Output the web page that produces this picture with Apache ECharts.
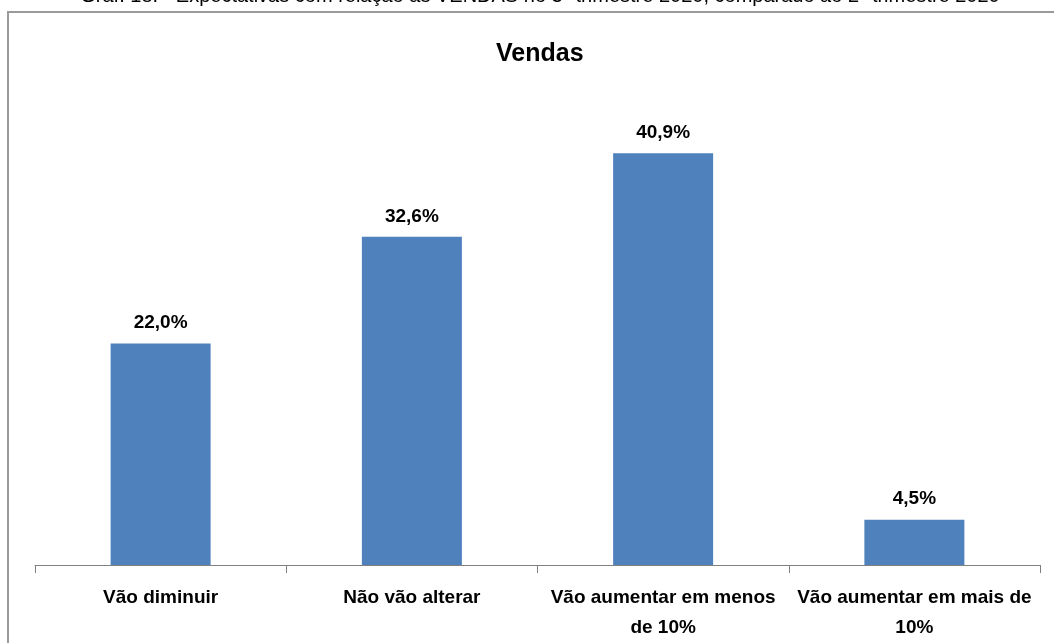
<!DOCTYPE html>
<html lang="pt">
<head>
<meta charset="UTF-8">
<title>Vendas</title>
<style>
  html, body { margin: 0; padding: 0; background: #fff; }
  #chart { width: 1054px; height: 643px; }
</style>
</head>
<body>
<div id="chart"></div>
<script src="https://cdn.jsdelivr.net/npm/echarts@6/dist/echarts.min.js"></script>
<script>
var categories = ['Vão diminuir', 'Não vão alterar', 'Vão aumentar em menos\nde 10%', 'Vão aumentar em mais de\n10%'];
var values = [22.0, 32.6, 40.9, 4.5];
var chartTitle = 'Vendas';
var caption = 'Gráf. 18. - Expectativas com relação às VENDAS no 3º trimestre 2020, comparado ao 2º trimestre 2020';

var myChart = echarts.init(document.getElementById('chart'));
var option = {
  animation: false,
  title: {
    text: chartTitle,
    left: 491, top: 37,
    textStyle: { fontFamily: 'Liberation Sans, Arial', fontSize: 25, fontWeight: 'bold', color: '#000' }
  },
  graphic: [
    { type: 'rect', shape: { x: 8, y: 12, width: 1100, height: 700 },
      style: { fill: 'none', stroke: '#9a9a9a', lineWidth: 2 }, silent: true },
    { type: 'text', x: 540, y: -14,
      style: { text: caption, font: '20px Liberation Sans, Arial', fill: '#000', align: 'center' } }
  ],
  grid: { left: 35, right: 14, top: 112, bottom: 77 },
  xAxis: {
    type: 'category',
    data: categories,
    axisLine: { lineStyle: { color: '#808080', width: 1 } },
    axisTick: { show: true, length: 8, lineStyle: { color: '#808080' } },
    axisLabel: {
      interval: 0, margin: 18, lineHeight: 30,
      fontFamily: 'Liberation Sans, Arial', fontSize: 19, fontWeight: 'bold', color: '#000'
    }
  },
  yAxis: {
    type: 'value', min: 0, max: 45, show: false,
    splitLine: { show: false }
  },
  series: [{
    type: 'bar',
    data: values,
    barWidth: 100,
    itemStyle: { color: '#4f81bd' },
    label: {
      show: true, position: 'top', distance: 11,
      fontFamily: 'Liberation Sans, Arial', fontSize: 19, fontWeight: 'bold', color: '#000',
      formatter: function (p) { return p.value.toFixed(1).replace('.', ',') + '%'; }
    }
  }]
};
myChart.setOption(option);
</script>
</body>
</html>
